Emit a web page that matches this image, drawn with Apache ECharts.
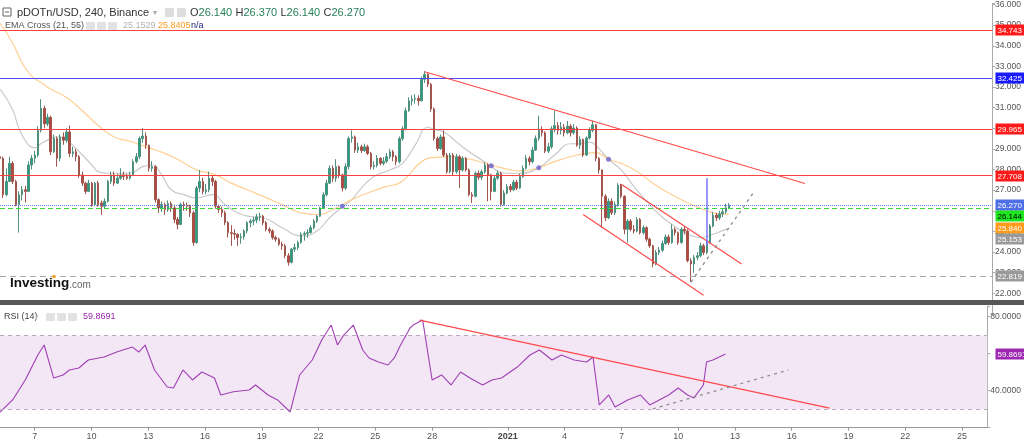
<!DOCTYPE html>
<html><head><meta charset="utf-8">
<script src="https://cdn.jsdelivr.net/npm/echarts/dist/echarts.min.js"></script>
<style>html,body{margin:0;padding:0;background:#fff}#c{width:1024px;height:446px}</style>
</head><body><div id="c"></div>
<script>
// ---------- DATA ----------
const startTime = '2020-12-05T04:00:00Z'; // first 4h candle
const categoryCount = 314;
const opens = [28.62,28.54,26.78,27.42,28.30,27.42,26.30,26.78,27.02,26.94,28.22,28.54,28.70,29.90,30.97,30.21,30.53,28.86,29.50,28.54,29.58,29.42,29.82,28.78,28.86,28.62,27.74,27.34,26.94,27.34,26.30,27.34,26.38,26.22,26.46,27.42,27.74,27.34,27.58,27.74,27.66,27.58,27.74,28.38,28.62,29.50,29.62,29.18,28.06,28.14,26.54,26.14,26.30,26.06,26.35,26.14,25.58,25.34,26.30,26.27,26.22,25.90,24.46,27.10,27.42,26.94,27.02,27.58,27.42,26.22,26.06,25.90,25.42,24.94,24.90,24.86,24.70,24.74,25.02,25.42,25.50,25.55,25.70,25.74,25.42,25.10,25.02,24.70,24.62,24.38,24.30,23.82,23.50,24.14,24.22,24.46,24.86,24.90,24.94,25.18,25.50,25.74,26.14,26.78,27.34,28.06,27.58,28.14,27.74,27.10,28.14,29.50,29.58,28.94,29.10,28.92,29.10,28.78,28.14,28.20,28.54,28.30,28.40,28.62,28.86,28.62,28.38,29.50,29.98,30.85,31.33,31.41,31.45,31.33,32.37,32.61,32.13,30.93,29.50,29.02,29.58,28.70,27.89,28.70,27.89,28.62,27.98,28.54,27.98,26.78,26.70,27.82,27.62,27.89,28.22,27.74,26.94,27.58,27.82,26.30,26.86,27.18,27.02,27.39,27.10,27.66,28.06,28.54,28.38,28.94,29.50,29.90,29.78,28.89,29.10,29.98,30.13,29.90,30.05,29.78,30.10,29.78,30.01,29.18,29.46,28.70,29.53,29.90,30.17,28.54,27.98,26.70,25.66,26.46,25.90,26.30,27.23,26.70,25.10,25.50,25.10,25.02,25.58,24.94,25.18,24.62,24.30,23.42,23.98,24.09,24.41,24.73,24.46,25.10,24.94,24.46,25.10,25.02,23.58,23.42,23.74,23.82,24.30,23.98,24.46,25.26,25.79,25.66,25.85,25.95,26.14];
const closes = [28.54,26.78,27.42,28.30,27.42,26.30,26.78,27.02,26.94,28.22,28.54,28.70,29.90,30.97,30.21,30.53,28.86,29.50,28.54,29.58,29.42,29.82,28.78,28.86,28.62,27.74,27.34,26.94,27.34,26.30,27.34,26.30,26.22,26.46,27.42,27.74,27.34,27.58,27.74,27.66,27.58,27.74,28.38,28.62,29.50,29.62,29.18,28.06,28.14,26.54,26.14,26.30,26.06,26.35,26.14,25.58,25.34,26.30,26.27,26.22,25.90,24.46,27.10,27.42,26.94,27.02,27.58,27.42,26.22,26.06,25.90,25.42,24.94,24.90,24.86,24.70,24.74,25.02,25.42,25.50,25.55,25.70,25.74,25.42,25.10,25.02,24.70,24.62,24.38,24.30,23.82,23.50,24.14,24.22,24.46,24.86,24.90,24.94,25.18,25.50,25.74,26.14,26.78,27.34,28.06,27.58,28.14,27.74,27.10,28.14,29.50,29.58,28.94,29.10,28.92,29.10,28.78,28.14,28.20,28.54,28.30,28.40,28.62,28.86,28.62,28.38,29.50,29.98,30.85,31.33,31.41,31.45,31.33,32.37,32.61,32.13,30.93,29.50,29.02,29.58,28.70,27.89,28.70,27.89,28.62,27.98,28.54,27.98,26.78,26.70,27.82,27.62,27.89,28.22,27.74,26.94,27.58,27.82,26.30,26.86,27.18,27.02,27.39,27.10,27.66,28.06,28.54,28.38,28.94,29.50,29.90,29.78,28.89,29.10,29.98,30.13,29.90,30.05,29.78,30.10,29.78,30.01,29.18,29.46,28.70,29.53,29.90,30.17,28.54,27.98,26.70,25.66,26.46,25.90,26.30,27.23,26.70,25.10,25.50,25.10,25.02,25.58,24.94,25.18,24.62,24.30,23.42,23.98,24.09,24.41,24.73,24.46,25.10,24.94,24.46,25.10,25.02,23.58,23.42,23.74,23.82,24.30,23.98,24.46,25.26,25.79,25.66,25.85,25.95,26.14,26.27];
const lows = [28.06,26.62,26.70,27.40,27.30,26.22,24.94,26.50,26.40,26.90,28.00,28.30,28.60,29.80,30.00,30.10,28.70,28.80,28.14,28.40,29.20,29.30,28.60,28.60,28.40,27.60,27.20,26.80,26.90,26.20,26.25,26.20,25.80,26.10,26.40,27.30,27.20,27.30,27.50,27.50,27.50,27.50,27.70,28.30,28.50,29.30,29.00,27.90,27.90,26.40,25.90,25.95,25.80,25.95,25.95,25.40,25.10,25.30,26.00,26.00,25.70,24.30,24.40,26.90,26.80,26.80,26.90,27.20,26.10,25.90,25.70,25.30,24.70,24.30,24.60,24.30,24.40,24.60,24.90,25.20,25.30,25.40,25.50,25.30,25.00,24.90,24.60,24.50,24.30,24.10,23.70,23.34,23.45,24.00,24.10,24.40,24.55,24.70,24.90,25.10,25.40,25.70,26.10,26.70,27.30,27.40,27.40,27.60,26.94,27.00,28.00,29.30,28.80,28.80,28.80,28.85,28.70,28.00,28.00,28.10,28.20,28.20,28.30,28.50,28.40,28.20,28.30,29.40,29.90,30.80,31.10,31.20,31.10,31.30,32.20,32.00,30.80,29.40,28.90,28.95,28.60,27.80,27.80,27.70,27.80,27.10,27.90,27.90,26.70,26.38,26.65,27.50,27.50,27.80,26.46,26.50,26.90,27.50,26.20,26.25,26.80,26.90,26.95,27.00,27.05,27.60,28.00,28.20,28.30,28.90,29.40,29.60,28.80,28.80,29.00,29.80,29.70,29.70,29.60,29.70,29.60,29.70,29.10,29.00,28.60,28.65,29.45,29.80,28.40,27.80,25.18,25.50,25.60,25.80,25.80,26.20,26.60,24.86,24.46,25.00,24.90,24.95,24.85,24.85,24.50,24.20,23.26,23.35,23.85,24.00,24.35,24.35,24.40,24.80,24.35,24.40,24.85,23.50,22.54,23.00,23.60,23.75,23.85,23.90,24.40,25.20,25.50,25.55,25.70,25.85,26.14];
const highs = [28.90,28.62,28.06,28.62,28.40,27.50,26.95,27.20,27.20,28.40,28.70,28.90,30.10,31.41,31.10,30.70,30.60,29.70,29.60,29.70,29.80,30.00,30.13,29.10,29.00,28.70,27.90,27.40,27.50,27.40,27.40,27.45,26.50,26.60,27.50,27.90,27.90,27.80,28.06,27.90,27.80,27.90,28.50,28.80,29.60,30.01,29.80,29.20,28.40,28.20,26.60,26.45,26.40,26.50,26.45,26.30,25.70,26.40,26.45,26.40,26.30,26.00,27.20,27.98,27.60,27.30,27.90,27.70,27.50,26.30,26.20,26.00,25.50,25.30,25.10,24.90,24.90,25.10,25.50,25.60,25.70,25.85,25.90,25.80,25.50,25.20,25.10,24.80,24.70,24.50,24.40,23.95,24.20,24.40,24.55,24.95,25.00,25.10,25.30,25.60,25.80,26.20,26.90,27.50,28.20,28.20,28.50,28.20,27.80,28.30,29.60,29.90,29.65,29.30,29.20,29.25,29.20,28.85,28.40,28.70,28.60,28.60,28.80,29.00,28.95,28.70,29.60,30.10,31.00,31.50,31.60,31.65,31.60,32.50,32.77,32.70,32.20,31.00,29.60,29.70,29.90,28.80,28.80,28.80,28.75,28.70,28.65,28.60,28.05,26.90,27.90,27.95,28.00,28.35,28.30,27.80,27.70,27.95,27.90,27.00,27.30,27.30,27.50,27.50,27.80,28.20,28.70,28.65,29.10,29.65,30.61,30.10,29.85,29.30,30.10,30.85,30.30,30.30,30.20,30.35,30.20,30.20,30.10,29.60,29.50,29.60,30.05,30.37,30.20,28.60,28.00,26.80,26.60,26.60,26.45,27.34,27.30,26.75,25.60,25.60,25.30,25.70,25.65,25.30,25.25,24.70,24.35,24.10,24.25,24.55,24.85,24.85,25.34,25.20,25.00,25.20,25.25,25.10,23.70,23.85,24.00,24.45,24.40,24.60,25.35,25.95,25.90,26.00,26.10,26.35,26.37];
// EMA readings [candle index, value]
const ema21 = [[0,31.9],[4,30.9],[6,29.98],[9,29.18],[11,29.05],[13,29.26],[16,29.5],[18,29.58],[21,29.42],[25,28.86],[29,28.22],[31,27.9],[34,27.82],[41,27.82],[45,28.14],[48,28.22],[51,27.74],[54,27.02],[58,26.78],[62,26.62],[67,26.78],[71,26.3],[75,25.9],[78,25.74],[83,25.66],[89,25.18],[95,24.78],[100,25.02],[104,25.66],[108,26.19],[111,26.54],[114,27.1],[118,27.66],[123,27.98],[127,28.3],[131,29.18],[135,30.05],[137,29.94],[140,29.82],[144,29.34],[148,28.86],[152,28.46],[155,28.14],[159,27.82],[164,27.82],[170,28.09],[175,28.7],[180,29.25],[183,29.25],[186,29.33],[188,29.17],[192,28.5],[196,27.98],[200,27.18],[204,26.46],[208,25.82],[212,25.34],[216,24.94],[221,24.7],[225,24.86],[229,25.1],[230,25.153]];
const ema55 = [[0,35.1],[4,34.13],[7,33.17],[10,32.53],[13,32.21],[16,31.9],[21,31.49],[26,30.85],[31,30.13],[36,29.58],[41,29.37],[47,29.05],[52,28.78],[57,28.41],[62,27.98],[68,27.74],[73,27.34],[78,27.02],[83,26.7],[89,26.3],[95,25.9],[101,25.82],[105,26.06],[111,26.54],[116,26.86],[122,27.18],[126,27.34],[129,27.74],[133,28.38],[137,28.58],[142,28.62],[148,28.5],[152,28.35],[155,28.22],[160,28.02],[164,27.93],[170,28.09],[175,28.38],[180,28.62],[185,28.78],[188,28.82],[192,28.5],[196,28.3],[201,27.9],[206,27.34],[211,26.86],[216,26.46],[222,26.06],[227,25.85],[230,25.84]];
const emaCrosses = [[108,26.22],[155,28.18],[170,28.09],[192,28.5]];
const rsi = [[0,28.5],[4,35.0],[8,45.8],[12,59.3],[14,64.7],[17,46.9],[20,48.5],[22,51.2],[25,52.3],[28,56.6],[33,58.2],[37,60.9],[42,63.6],[44,60.9],[46,64.7],[49,51.2],[53,42.0],[55,41.5],[58,51.2],[61,45.8],[64,50.1],[68,46.9],[70,37.7],[74,39.4],[79,40.4],[81,43.1],[85,37.7],[88,35.0],[92,28.5],[95,48.5],[99,56.6],[102,67.4],[105,75.5],[107,64.7],[109,70.1],[112,75.5],[115,62.0],[117,57.7],[120,55.5],[123,53.9],[125,57.7],[127,64.7],[130,73.9],[131,75.5],[134,78.2],[137,45.8],[140,48.5],[143,43.1],[146,50.1],[149,46.9],[153,43.1],[156,45.8],[159,46.9],[164,52.8],[168,59.3],[171,62.0],[175,56.6],[178,59.3],[182,56.6],[186,55.5],[188,58.2],[190,32.3],[193,37.7],[195,31.2],[199,35.0],[203,37.7],[206,32.3],[209,35.0],[212,37.7],[215,41.5],[218,37.7],[220,36.1],[223,43.1],[224,55.5],[226,56.6],[230,59.87]];
const levelValues = [34.743, 32.425, 29.965, 27.708, 26.270, 26.144, 22.819];
const emaLabelValues = [25.840, 25.153];
const rsiLast = 59.8691;
const trendLines = [[[134,32.74],[254,27.32]], [[196,27.29],[234,23.42]], [[184,25.82],[222,21.9]]];
const supportLine = [[218,22.54],[238,26.94]];
const vMarker = [[223,27.58],[223,24.3]];
const rsiTrend = [[133,78.2],[263,30.6]];
const rsiSupport = [[207,30.2],[250,51.2]];
const xTickDates = ['2020-12-07','2020-12-10','2020-12-13','2020-12-16','2020-12-19','2020-12-22','2020-12-25','2020-12-28','2021-01-01','2021-01-04','2021-01-07','2021-01-10','2021-01-13','2021-01-16','2021-01-19','2021-01-22','2021-01-25'];
const xTickLabels = ['7','10','13','16','19','22','25','28','2021','4','7','10','13','16','19','22','25'];

// ---------- BUILD ----------
const pad = n => String(n).padStart(2,'0');
const cats = [];
const t0 = Date.parse(startTime);
for (let i = 0; i < categoryCount; i++) {
  const d = new Date(t0 + i*4*3600*1000);
  cats.push(d.getUTCFullYear()+'-'+pad(d.getUTCMonth()+1)+'-'+pad(d.getUTCDate())+' '+pad(d.getUTCHours())+':00');
}
const tickMap = {};
xTickDates.forEach((d,i)=>{ tickMap[d+' 00:00'] = xTickLabels[i]; });
const candles = opens.map((o,i)=>[o, closes[i], lows[i], highs[i]]);
const FONT = 'Liberation Sans, Arial, sans-serif';
const cPair = p => ({coord:[cats[p[0]], p[1]]});

const chart = echarts.init(document.getElementById('c'), null, {renderer:'canvas'});
const option = {
  animation:false,
  backgroundColor:'#fff',
  grid:[
    {left:0, right:29, top:0, height:313.9},
    {left:0, right:29, top:306, height:121.7}
  ],
  xAxis:[
    {type:'category', gridIndex:0, data:cats, boundaryGap:false, show:false},
    {type:'category', gridIndex:1, data:cats, boundaryGap:false,
     axisLine:{lineStyle:{color:'#999'}},
     axisTick:{show:true, length:3, lineStyle:{color:'#999'}, interval:(i,v)=>tickMap[v]!==undefined},
     axisLabel:{interval:(i,v)=>tickMap[v]!==undefined, fontSize:9, color:'#555', fontFamily:FONT, margin:4,
       formatter:v=>{const l=tickMap[v]; return l==='2021'?'{b|2021}':(l||'');},
       rich:{b:{fontWeight:'bold', fontSize:9, color:'#444', fontFamily:FONT}}},
     splitLine:{show:false}}
  ],
  yAxis:[
    {type:'value', gridIndex:0, position:'right', min:21, max:36.05, interval:1,
     axisLine:{show:true, lineStyle:{color:'#aaa'}}, axisTick:{show:true, length:3, lineStyle:{color:'#aaa'}},
     axisLabel:{fontSize:8.5, color:'#555', fontFamily:FONT, margin:3,
       formatter:v=>(v>=21.9&&v<=36.01)?v.toFixed(3):''},
     splitLine:{show:false}},
    {type:'value', gridIndex:1, position:'right', min:20, max:85.8, interval:20,
     axisLine:{show:true, lineStyle:{color:'#aaa'}}, axisTick:{show:true, length:3, lineStyle:{color:'#aaa'}},
     axisLabel:{fontSize:8.5, color:'#555', fontFamily:FONT, margin:3, formatter:v=>(v===80||v===40)?v.toFixed(4):''},
     splitLine:{show:false}}
  ],
  series:[
    {type:'line', xAxisIndex:0, yAxisIndex:0, data:ema21, smooth:true, showSymbol:false, connectNulls:true,
     lineStyle:{color:'#c9c9c9', width:1.2}, z:2},
    {type:'line', xAxisIndex:0, yAxisIndex:0, data:ema55, smooth:true, showSymbol:false, connectNulls:true,
     lineStyle:{color:'#ffcf94', width:1.2}, z:2},
    {type:'candlestick', xAxisIndex:0, yAxisIndex:0, data:candles, barWidth:2,
     itemStyle:{color:'#26a082', color0:'#b5463d', borderColor:'#4f8f7e', borderColor0:'#a0554d', borderWidth:1},
     z:3,
     markLine:{symbol:'none', silent:true, label:{show:false}, animation:false,
       data:[
         {yAxis:levelValues[0], lineStyle:{color:'#ff4040', width:1.2, type:'solid'}},
         {yAxis:levelValues[1], lineStyle:{color:'#4d4dff', width:1.2, type:'solid'}},
         {yAxis:levelValues[2], lineStyle:{color:'#ff4040', width:1.2, type:'solid'}},
         {yAxis:levelValues[3], lineStyle:{color:'#ff4040', width:1.2, type:'solid'}},
         {yAxis:levelValues[4], lineStyle:{color:'#5a7df0', width:1, type:'dotted'}},
         {yAxis:levelValues[5], lineStyle:{color:'#33dd33', width:1.2, type:[5,3]}},
         {yAxis:levelValues[6], lineStyle:{color:'#aaaaaa', width:1.2, type:[6,4]}},
         ...trendLines.map(t=>[Object.assign(cPair(t[0]),{lineStyle:{color:'#ff4a4a', width:1.2, type:'solid'}}), cPair(t[1])]),
         [Object.assign(cPair(supportLine[0]),{lineStyle:{color:'#8a8a8a', width:1.3, type:[3,4]}}), cPair(supportLine[1])],
         [Object.assign(cPair(vMarker[0]),{lineStyle:{color:'#7575ff', width:1.5, type:'solid'}}), cPair(vMarker[1])]
       ]}},
    {type:'scatter', xAxisIndex:0, yAxisIndex:0, data:emaCrosses, symbolSize:5,
     itemStyle:{color:'#6a5fd0'}, z:4},
    {type:'line', xAxisIndex:1, yAxisIndex:1, data:rsi, showSymbol:false, connectNulls:true,
     lineStyle:{color:'#a040b4', width:1.1}, z:3,
     markArea:{silent:true, itemStyle:{color:'#f3e6f5'}, data:[[{yAxis:30},{yAxis:70}]]},
     markLine:{symbol:'none', silent:true, label:{show:false},
       data:[
         {yAxis:70, lineStyle:{color:'#b9a8bd', width:1, type:[4,4]}},
         {yAxis:30, lineStyle:{color:'#b9a8bd', width:1, type:[4,4]}},
         [Object.assign(cPair(rsiTrend[0]),{lineStyle:{color:'#ff4a4a', width:1.2, type:'solid'}}), cPair(rsiTrend[1])],
         [Object.assign(cPair(rsiSupport[0]),{lineStyle:{color:'#8a8a8a', width:1.2, type:[3,4]}}), cPair(rsiSupport[1])]
       ]}}
  ]
};
chart.setOption(option);

const labelDefs = [
  [levelValues[0], '#ff1a1a', '#fff'],
  [levelValues[1], '#1a1aff', '#fff'],
  [levelValues[2], '#ff1a1a', '#fff'],
  [levelValues[3], '#ff1a1a', '#fff'],
  [levelValues[4], '#4f6fe6', '#fff'],
  [levelValues[5], '#1ee61e', '#000'],
  [emaLabelValues[0], '#ff9a1a', '#fff'],
  [emaLabelValues[1], '#9a9a9a', '#fff'],
  [levelValues[6], '#9a9a9a', '#fff']
];
const placed = labelDefs.map(d=>({v:d[0], bg:d[1], fg:d[2], y:chart.convertToPixel({yAxisIndex:0}, d[0])}))
  .sort((a,b)=>a.y-b.y);
for (let i=1;i<placed.length;i++){ if (placed[i].y - placed[i-1].y < 11.2) placed[i].y = placed[i-1].y + 11.2; }
const g = [];
const LF = '8px '+FONT;
placed.forEach(p=>{
  g.push({type:'rect', shape:{x:995.5, y:Math.round(p.y)-5.5, width:29, height:11}, style:{fill:p.bg}, z:100});
  g.push({type:'text', x:997.5, y:Math.round(p.y)+0.5, style:{text:p.v.toFixed(3), fill:p.fg, font:LF, verticalAlign:'middle'}, z:101});
});
const ry = chart.convertToPixel({yAxisIndex:1}, rsiLast);
g.push({type:'rect', shape:{x:995.5, y:Math.round(ry)-5.5, width:29, height:11}, style:{fill:'#9c27b0'}, z:100});
g.push({type:'text', x:997.5, y:Math.round(ry)+0.5, style:{text:rsiLast.toFixed(4), fill:'#fff', font:LF, verticalAlign:'middle'}, z:101});

g.push({type:'rect', shape:{x:0, y:300, width:1024, height:5}, style:{fill:'#585858'}, z:90});
g.push({type:'rect', shape:{x:3, y:8, width:8, height:8}, style:{fill:'none', stroke:'#666', lineWidth:1}, z:100});
g.push({type:'line', shape:{x1:5, y1:12, x2:9, y2:12}, style:{stroke:'#666', lineWidth:1}, z:100});
g.push({type:'text', x:17, y:12.5, style:{text:'pDOTn/USD, 240, Binance', fill:'#333', font:'11px '+FONT, verticalAlign:'middle'}, z:100});
g.push({type:'text', x:153, y:12.5, style:{text:'▾', fill:'#aaa', font:'8px '+FONT, verticalAlign:'middle'}, z:100});
[165,177].forEach(x=>g.push({type:'rect', shape:{x:x, y:8, width:9, height:9, r:1}, style:{fill:'#dedede'}, z:100}));
g.push({type:'text', x:190, y:12.5, style:{
  text:'{k|O}{v|26.140} {k|H}{v|26.370} {k|L}{v|26.140} {k|C}{v|26.270}', verticalAlign:'middle',
  rich:{k:{fill:'#333', font:'11px '+FONT}, v:{fill:'#27805c', font:'11px '+FONT}}}, z:100});
g.push({type:'text', x:5, y:26, style:{text:'EMA Cross (21, 55)', fill:'#555', font:'9px '+FONT, verticalAlign:'middle'}, z:100});
g.push({type:'text', x:76, y:26, style:{text:'▾', fill:'#bbb', font:'7px '+FONT, verticalAlign:'middle'}, z:100});
[86,97,108].forEach(x=>g.push({type:'rect', shape:{x:x, y:22, width:9, height:8, r:1}, style:{fill:'#e2e2e2'}, z:100}));
g.push({type:'text', x:123, y:26, style:{text:'25.1529', fill:'#b0b0b0', font:'9px '+FONT, verticalAlign:'middle'}, z:100});
g.push({type:'text', x:158, y:26, style:{text:'25.8405', fill:'#ff9a1a', font:'9px '+FONT, verticalAlign:'middle'}, z:100});
g.push({type:'text', x:191, y:26, style:{text:'n/a', fill:'#1a237e', font:'9px '+FONT, verticalAlign:'middle'}, z:100});
g.push({type:'text', x:4, y:317, style:{text:'RSI (14)', fill:'#444', font:'9px '+FONT, verticalAlign:'middle'}, z:100});
g.push({type:'text', x:35, y:317, style:{text:'▾', fill:'#bbb', font:'7px '+FONT, verticalAlign:'middle'}, z:100});
[46,57,68].forEach(x=>g.push({type:'rect', shape:{x:x, y:313, width:9, height:8, r:1}, style:{fill:'#e2e2e2'}, z:100}));
g.push({type:'text', x:83, y:317, style:{text:'59.8691', fill:'#9c27b0', font:'9px '+FONT, verticalAlign:'middle'}, z:100});
g.push({type:'text', x:10, y:283.5, style:{text:'{a|Investing}{b|.com}', verticalAlign:'middle',
  rich:{a:{fill:'#111', font:'bold 13.5px '+FONT}, b:{fill:'#666', font:'10px '+FONT, padding:[3,0,0,0]}}}, z:100});
g.push({type:'circle', shape:{cx:54, cy:276.5, r:1.8}, style:{fill:'#f5a623'}, z:101});

chart.setOption({graphic:g});
</script></body></html>
